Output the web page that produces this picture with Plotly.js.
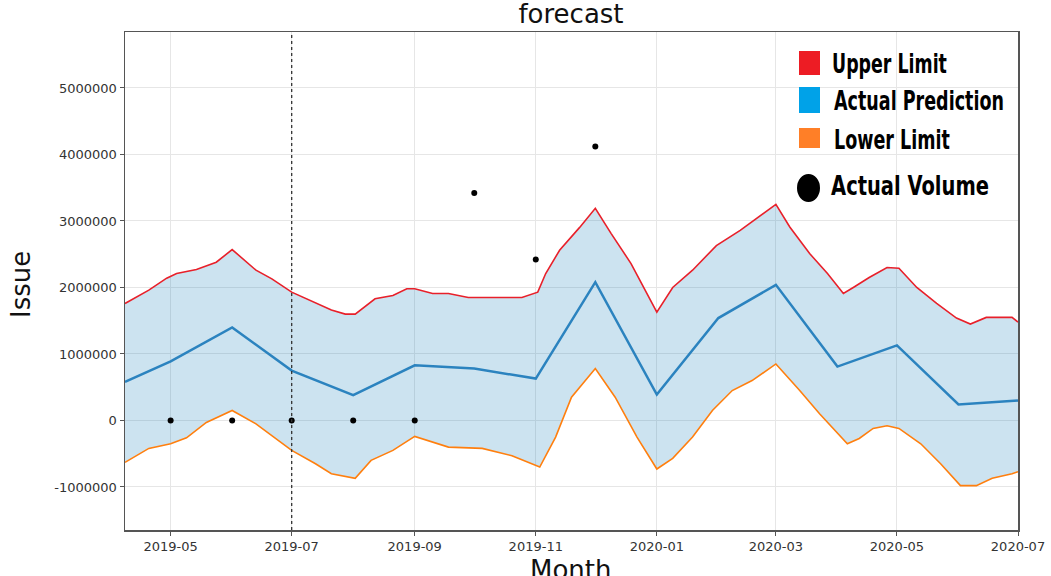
<!DOCTYPE html>
<html>
<head>
<meta charset="utf-8">
<script src="https://cdn.plot.ly/plotly-3.0.1.min.js"></script>
<style>
  html, body { margin: 0; padding: 0; background: #fff; }
  #chart { width: 1051px; height: 576px; }
</style>
</head>
<body>
<div id="chart"></div>
<script>
// Predicted monthly volume
const predDates = ['2019-04-08', '2019-05-01', '2019-06-01', '2019-07-01', '2019-08-01', '2019-09-01',
  '2019-10-01', '2019-11-01', '2019-12-01', '2020-01-01', '2020-02-01', '2020-03-01',
  '2020-04-01', '2020-05-01', '2020-06-01', '2020-07-01'];
const predValues = [580000, 890000, 1400000, 750000, 380000, 830000,
  780000, 630000, 2080000, 390000, 1540000, 2040000,
  810000, 1130000, 240000, 300000];

// Upper bound of the forecast interval
const upperDates = ['2019-04-08', '2019-04-20', '2019-04-29', '2019-05-04', '2019-05-14', '2019-05-24',
  '2019-06-01', '2019-06-13', '2019-06-21', '2019-07-01', '2019-07-21', '2019-07-28',
  '2019-08-02', '2019-08-12', '2019-08-21', '2019-08-28', '2019-09-01', '2019-09-10',
  '2019-09-18', '2019-09-28', '2019-10-25', '2019-11-02', '2019-11-06', '2019-11-13',
  '2019-11-23', '2019-12-01', '2019-12-09', '2019-12-19', '2020-01-01', '2020-01-09',
  '2020-01-19', '2020-01-31', '2020-02-12', '2020-03-01', '2020-03-08', '2020-03-18',
  '2020-03-27', '2020-04-04', '2020-04-09', '2020-04-17', '2020-04-26', '2020-05-02',
  '2020-05-11', '2020-05-21', '2020-05-31', '2020-06-07', '2020-06-15', '2020-06-28',
  '2020-07-01'];
const upperValues = [1760000, 1960000, 2140000, 2210000, 2270000, 2380000,
  2570000, 2260000, 2130000, 1930000, 1660000, 1600000,
  1600000, 1830000, 1880000, 1980000, 1980000, 1910000,
  1910000, 1850000, 1850000, 1930000, 2210000, 2560000,
  2900000, 3190000, 2810000, 2360000, 1630000, 2000000,
  2260000, 2630000, 2860000, 3250000, 2910000, 2510000,
  2210000, 1910000, 2000000, 2150000, 2300000, 2290000,
  2000000, 1760000, 1540000, 1450000, 1550000, 1550000,
  1480000];

// Lower bound of the forecast interval
const lowerDates = ['2019-04-08', '2019-04-20', '2019-05-01', '2019-05-09', '2019-05-19', '2019-06-01',
  '2019-06-13', '2019-07-01', '2019-07-13', '2019-07-21', '2019-08-02', '2019-08-10',
  '2019-08-21', '2019-09-01', '2019-09-18', '2019-10-05', '2019-10-20', '2019-10-30',
  '2019-11-03', '2019-11-11', '2019-11-19', '2019-12-01', '2019-12-11', '2019-12-22',
  '2020-01-01', '2020-01-09', '2020-01-19', '2020-01-29', '2020-02-08', '2020-02-18',
  '2020-03-01', '2020-03-13', '2020-03-23', '2020-04-06', '2020-04-12', '2020-04-19',
  '2020-04-26', '2020-05-02', '2020-05-13', '2020-05-23', '2020-06-02', '2020-06-10',
  '2020-06-18', '2020-06-28', '2020-07-01'];
const lowerValues = [-630000, -420000, -350000, -260000, -30000, 150000,
  -50000, -450000, -650000, -800000, -870000, -600000,
  -450000, -240000, -400000, -420000, -530000, -650000,
  -700000, -250000, 350000, 780000, 350000, -250000,
  -730000, -570000, -250000, 150000, 450000, 600000,
  850000, 450000, 100000, -350000, -270000, -120000,
  -80000, -120000, -350000, -650000, -980000, -980000,
  -870000, -800000, -770000];

// Observed monthly volume
const actualDates = ['2019-05-01', '2019-06-01', '2019-07-01', '2019-08-01', '2019-09-01',
  '2019-10-01', '2019-11-01', '2019-12-01'];
const actualValues = [0, 0, 0, 0, 0, 3420000, 2420000, 4120000];

// Start of the forecast period
const forecastStart = '2019-07-01';

const yTicks = [-1000000, 0, 1000000, 2000000, 3000000, 4000000, 5000000];
const xRange = ['2019-04-08', '2020-07-01'];
const yRange = [-1647000, 5842000];

const legendLabels = ['Upper Limit', 'Actual Prediction', 'Lower Limit', 'Actual Volume'];
const legendColors = ['#ed1c24', '#00a2e8', '#ff7f27', '#000000'];

// pixel -> paper helpers for the plot box (x 125..1018, y 32..530)
const px = x => (x - 125) / 893;
const py = y => (530 - y) / 498;

const traces = [
  {
    x: upperDates.concat(lowerDates.slice().reverse()),
    y: upperValues.concat(lowerValues.slice().reverse()),
    type: 'scatter', mode: 'lines', fill: 'toself',
    fillcolor: 'rgba(0,114,178,0.2)', line: { width: 0 }, hoverinfo: 'skip'
  },
  {
    x: upperDates, y: upperValues, type: 'scatter', mode: 'lines',
    line: { color: '#e8202a', width: 1.6 }
  },
  {
    x: lowerDates, y: lowerValues, type: 'scatter', mode: 'lines',
    line: { color: '#ff7f0e', width: 1.6 }
  },
  {
    x: predDates, y: predValues, type: 'scatter', mode: 'lines',
    line: { color: '#2b83bf', width: 2.5 }
  },
  {
    x: actualDates, y: actualValues, type: 'scatter', mode: 'markers',
    marker: { color: '#000', size: 6 }
  }
];

// Legend rows: left edge, vertical centre and rendered width (px)
const legendFont = { family: 'DejaVu Sans', color: '#000', weight: 'bold', size: 27 };
const legendRows = [
  { x: 831, y: 63, w: 115 },
  { x: 833, y: 100, w: 170 },
  { x: 833, y: 139, w: 116 },
  { x: 830, y: 186, w: 158 }
];

const annotations = legendLabels.map((t, i) => ({
  text: t, xref: 'paper', yref: 'paper',
  x: px(legendRows[i].x), y: py(legendRows[i].y),
  xanchor: 'left', yanchor: 'middle', showarrow: false, borderpad: 0,
  font: legendFont
}));
annotations.push({
  text: 'Issue', xref: 'paper', yref: 'paper', x: px(21), y: py(285),
  xanchor: 'center', yanchor: 'middle', textangle: -90, showarrow: false,
  font: { family: 'DejaVu Sans', size: 26, color: '#111' }
});
annotations.push({
  text: 'Month', xref: 'paper', yref: 'paper', x: px(571), y: py(570),
  xanchor: 'center', yanchor: 'middle', showarrow: false,
  font: { family: 'DejaVu Sans', size: 26, color: '#111' }
});

const squares = [[51, 75], [87, 113], [128, 148]];
const shapes = squares.map((s, i) => ({
  type: 'rect', xref: 'paper', yref: 'paper',
  x0: px(799), x1: px(820), y0: py(s[1]), y1: py(s[0]),
  fillcolor: legendColors[i], line: { width: 0 }
}));
shapes.push({
  type: 'circle', xref: 'paper', yref: 'paper',
  x0: px(797), x1: px(820), y0: py(202), y1: py(174),
  fillcolor: legendColors[3], line: { width: 0 }
});
shapes.push({
  type: 'line', xref: 'x', yref: 'paper', x0: forecastStart, x1: forecastStart, y0: 0, y1: 1,
  line: { color: '#333', width: 1.3, dash: 'dot' }, layer: 'above'
});

const layout = {
  width: 1051, height: 576,
  margin: { l: 125, r: 33, t: 32, b: 46, pad: 0 },
  paper_bgcolor: '#fff', plot_bgcolor: '#fff',
  showlegend: false,
  title: {
    text: 'forecast', x: 571 / 1051, xanchor: 'center', y: 1 - 14 / 576, yanchor: 'middle',
    yref: 'container', xref: 'container',
    font: { family: 'DejaVu Sans', size: 26, color: '#111' }
  },
  xaxis: {
    type: 'date', range: xRange, tick0: '2019-05-01', dtick: 'M2', tickformat: '%Y-%m',
    showgrid: true, gridcolor: '#e6e6e6', gridwidth: 1,
    showline: true, linecolor: '#555', linewidth: 1.5, mirror: true,
    ticks: 'outside', ticklen: 4, tickcolor: '#555', zeroline: false,
    tickfont: { family: 'DejaVu Sans', size: 13, color: '#333' }
  },
  yaxis: {
    range: yRange, tickvals: yTicks, ticktext: yTicks.map(v => String(v)),
    showgrid: true, gridcolor: '#e6e6e6', gridwidth: 1,
    showline: true, linecolor: '#555', linewidth: 1.5, mirror: true,
    ticks: 'outside', ticklen: 4, tickcolor: '#555', zeroline: false,
    tickfont: { family: 'DejaVu Sans', size: 13, color: '#333' }
  },
  annotations: annotations,
  shapes: shapes
};

Plotly.newPlot('chart', traces, layout, { staticPlot: true, displayModeBar: false }).then(gd => {
  // Narrow the bold legend labels to their row widths, keeping the left edge fixed
  legendRows.forEach((row, i) => {
    const t = gd.querySelector('.annotation[data-index="' + i + '"] .annotation-text');
    if (!t) return;
    const b = t.getBBox();
    const sx = row.w / b.width;
    t.setAttribute('transform', 'matrix(' + sx + ',0,0,1,' + ((1 - sx) * b.x) + ',0)');
  });
});
</script>
</body>
</html>
